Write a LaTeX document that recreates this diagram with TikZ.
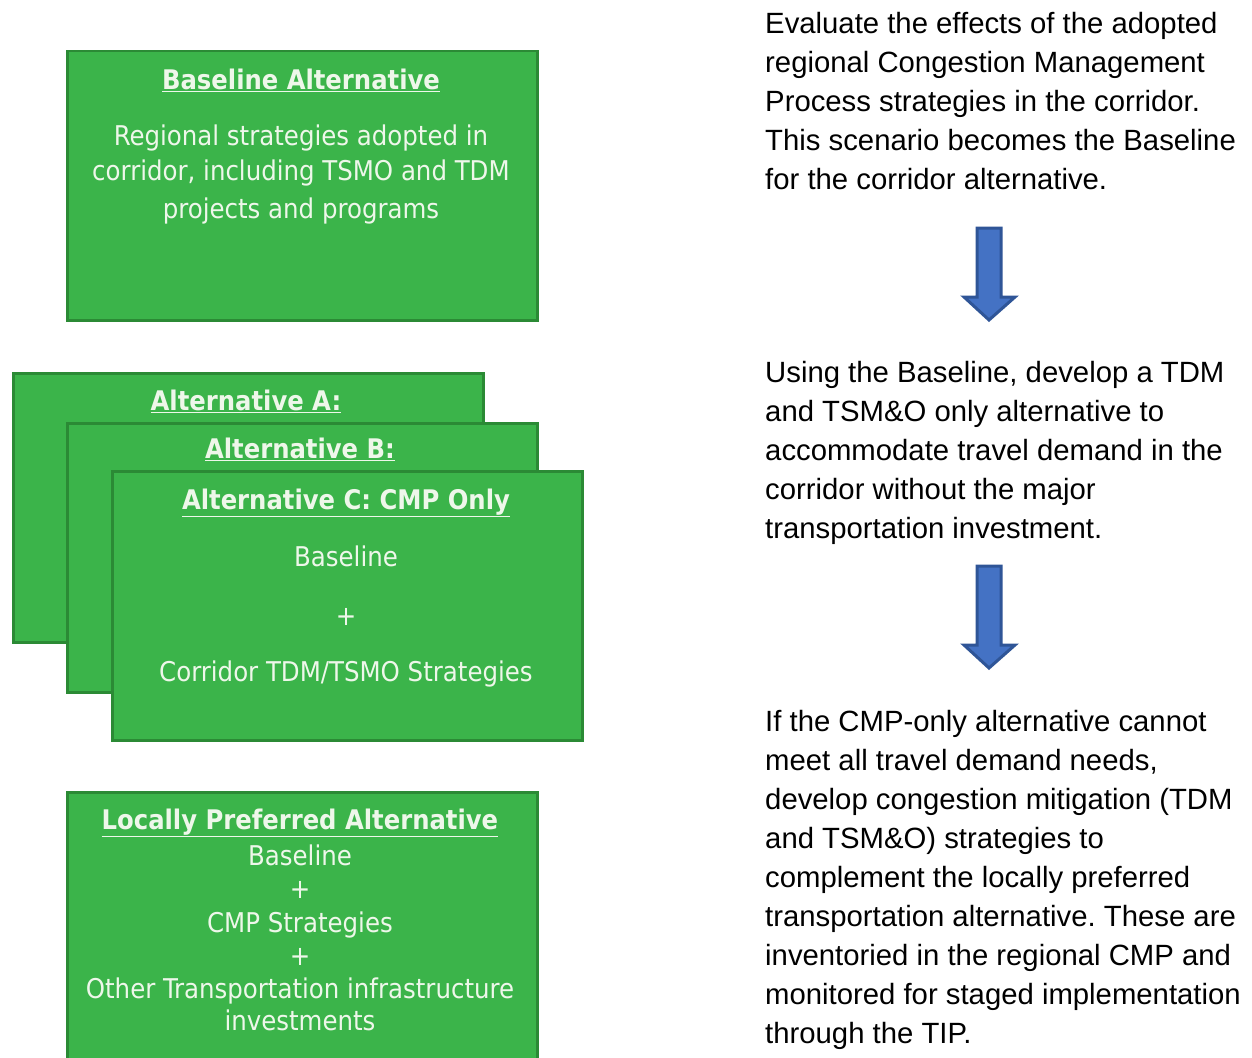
\documentclass[tikz,border=0pt]{standalone}
\usepackage{fontspec}
\setmainfont{Liberation Sans}
\newfontfamily\boxfont{DejaVu Sans Condensed}
\definecolor{gfill}{HTML}{3BB44A}
\definecolor{gline}{HTML}{2B8A35}
\definecolor{gtext}{HTML}{EEF7EA}
\definecolor{afill}{HTML}{4472C4}
\definecolor{aline}{HTML}{2F5597}
\frenchspacing
\begin{document}
\begin{tikzpicture}[x=1pt,y=-1pt,
  gbox/.style={draw=gline,fill=gfill,line width=2.5pt,anchor=north west,minimum width=470pt,minimum height=269pt,inner sep=0pt},
  btxt/.style={text=gtext,font=\boxfont\fontsize{27.2}{30}\selectfont,anchor=base,inner sep=0pt},
  ttl/.style={btxt,font=\boxfont\bfseries\fontsize{27}{30}\selectfont},
  rtxt/.style={anchor=north west,inner sep=0pt,align=left,font=\fontsize{29.3}{39}\selectfont,text=black},
  darrow/.style={draw=aline,fill=afill,line width=3pt,line join=miter}
]
\useasboundingbox (0,0) rectangle (1252,1057);

% Baseline box
\node[gbox] (base) at (66,50) {};
\node[ttl] (baset) at (301,89) {\underline{Baseline Alternative}};
\node[btxt] (base1) at (301,145) {Regional strategies adopted in};
\node[btxt] (base2) at (301,180) {corridor, including TSMO and TDM};
\node[btxt] (base3) at (301,218) {projects and programs};

% Alternative stack
\node[gbox] (alta) at (12,372) {};
\node[ttl] (altat) at (246,410) {\underline{Alternative A:}};
\node[gbox] (altb) at (66,422) {};
\node[ttl] (altbt) at (300,458) {\underline{Alternative B:}};
\node[gbox] (altc) at (111,470) {};
\node[ttl] (altct) at (346,509) {\underline{Alternative C: CMP Only}};
\node[btxt] (altc1) at (346,566) {Baseline};
\node[btxt] (altc2) at (346,625) {+};
\node[btxt] (altc3) at (346,681) {Corridor TDM/TSMO Strategies};

% Locally preferred
\node[gbox,minimum height=300pt] (lpa) at (66,791) {};
\node[ttl] (lpat) at (300,829) {\underline{Locally Preferred Alternative}};
\node[btxt] (lpa1) at (300,865) {Baseline};
\node[btxt] (lpa2) at (300,898) {+};
\node[btxt] (lpa3) at (300,932) {CMP Strategies};
\node[btxt] (lpa4) at (300,965) {+};
\node[btxt] (lpa5) at (300,998) {Other Transportation infrastructure};
\node[btxt] (lpa6) at (300,1030) {investments};

% Right texts
\node[rtxt] (r1) at (765,12) {Evaluate the effects of the adopted\\regional Congestion Management\\Process strategies in the corridor.\\This scenario becomes the Baseline\\for the corridor alternative.};
\node[rtxt] (r2) at (765,361) {Using the Baseline, develop a TDM\\and TSM\&O only alternative to\\accommodate travel demand in the\\corridor without the major\\transportation investment.};
\node[rtxt] (r3) at (765,710) {If the CMP-only alternative cannot\\meet all travel demand needs,\\develop congestion mitigation (TDM\\and TSM\&O) strategies to\\complement the locally preferred\\transportation alternative. These are\\inventoried in the regional CMP and\\monitored for staged implementation\\through the TIP.};

% Arrows
\draw[darrow] (977,228) -- (1001,228) -- (1001,297) -- (1015,297) -- (989,320) -- (964,297) -- (977,297) -- cycle;
\draw[darrow] (977,566) -- (1001,566) -- (1001,645) -- (1015,645) -- (989,668) -- (964,645) -- (977,645) -- cycle;
\end{tikzpicture}
\end{document}
